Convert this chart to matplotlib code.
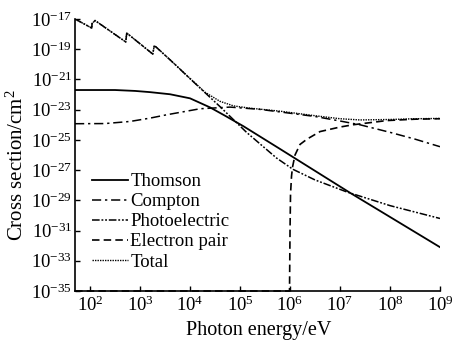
import numpy as np
import matplotlib.pyplot as plt

plt.rcParams['font.family'] = 'Liberation Serif'
plt.rcParams['mathtext.fontset'] = 'custom'
plt.rcParams['mathtext.rm'] = 'Liberation Serif'
plt.rcParams['mathtext.it'] = 'Liberation Serif:italic'

# values: log10(energy / eV), log10(cross section / cm^2)
thomson_e = [1.7, 2.5, 2.9, 3.2, 3.6, 4.0, 4.4, 4.7, 5.07, 5.8, 7.2, 9.0]
thomson_s = [-21.7, -21.7, -21.76, -21.84, -21.98, -22.25, -22.85, -23.4, -24.1, -25.6, -28.5, -32.1]

compton_e = [1.7, 2.3, 2.8, 3.2, 3.53, 4.2, 4.8, 5.4, 5.8, 6.5, 7.0, 7.4, 8.0, 8.5, 9.0]
compton_s = [-23.93, -23.92, -23.78, -23.56, -23.34, -22.94, -22.83, -22.98, -23.15, -23.45,
             -23.75, -24.0, -24.5, -24.95, -25.45]

photo_e = [1.7, 2.034, 2.04, 2.10, 2.714, 2.734, 3.254, 3.286, 3.6, 4.0, 4.6, 5.13, 5.73,
           6.06, 6.5, 7.14, 8.0, 9.0]
photo_s = [-17.0, -17.6, -17.3, -17.1, -18.52, -17.93, -19.32, -18.75, -19.7, -20.95, -22.8,
           -24.5, -26.2, -26.95, -27.65, -28.45, -29.35, -30.2]

pair_e = [1.7, 5.99, 6.0, 6.01, 6.03, 6.05, 6.1, 6.2, 6.34, 6.6, 7.0, 7.26, 7.94, 8.5, 9.0]
pair_s = [-35.0, -35.0, -31.0, -28.6, -27.4, -26.8, -26.0, -25.3, -24.95, -24.45, -24.15,
          -24.0, -23.72, -23.63, -23.6]

total_e = [1.7, 2.034, 2.04, 2.10, 2.714, 2.734, 3.254, 3.286, 3.6, 4.0, 4.3, 4.6, 4.87,
           5.2, 5.5, 5.8, 6.5, 7.0, 7.4, 8.0, 8.5, 9.0]
total_s = [-17.0, -17.6, -17.3, -17.1, -18.52, -17.93, -19.32, -18.75, -19.7, -20.93, -21.85,
           -22.45, -22.75, -22.9, -23.0, -23.1, -23.4, -23.6, -23.68, -23.65, -23.6, -23.58]

xtick_pow = [2, 3, 4, 5, 6, 7, 8, 9]
ytick_pow = [-17, -19, -21, -23, -25, -27, -29, -31, -33, -35]

fig = plt.figure(figsize=(4.57, 3.43), dpi=100)
ax = fig.add_axes([75 / 457, 1 - 291 / 343, 365 / 457, 272 / 343])

def p(v):
    return 10.0 ** np.array(v)

ax.plot(p(thomson_e), p(thomson_s), color='k', lw=1.3, label='Thomson')
ax.plot(p(compton_e), p(compton_s), color='k', lw=1.1, dashes=(6, 2.5, 1.5, 2.5), label='Compton')
ax.plot(p(photo_e), p(photo_s), color='k', lw=1.1, dashes=(5, 1.2, 1.2, 1.2, 1.2, 1.2),
        label='Photoelectric')
ax.plot(p(pair_e), p(pair_s), color='k', lw=1.2, dashes=(4.5, 2.5), label='Electron pair',
        clip_on=False)
ax.plot(p(total_e), p(total_s), color='k', lw=1.0, dashes=(1, 0.8), label='Total')

ax.set_xscale('log')
ax.set_yscale('log')
ax.set_xlim(50, 1e9)
ax.set_ylim(1e-35, 1e-17)

ax.set_xticks([10.0 ** k for k in xtick_pow])
ax.set_xticklabels([r'$10^{%d}$' % k for k in xtick_pow])
ax.set_yticks([10.0 ** k for k in ytick_pow])
ax.set_yticklabels([r'$10^{%d}$' % k for k in ytick_pow])
ax.minorticks_off()
ax.tick_params(direction='in', length=3.5, width=1, labelsize=13.5, pad=3)
ax.tick_params(axis='y', pad=2)

for s in ['top', 'right']:
    ax.spines[s].set_visible(False)
for s in ['left', 'bottom']:
    ax.spines[s].set_linewidth(1.2)

ax.set_xlabel('Photon energy/eV', fontsize=14.5)
ax.set_ylabel('Cross section/cm$^{2}$', fontsize=15)
ax.xaxis.set_label_coords(0.504, -0.11)
ax.yaxis.set_label_coords(-0.13, 0.463)

ax.legend(loc='upper left', bbox_to_anchor=(92 / 457, 1 - 173 / 343),
          bbox_transform=fig.transFigure, frameon=False, fontsize=13.5,
          handlelength=1.9, handletextpad=0.15, labelspacing=0.16, borderpad=0,
          borderaxespad=0)

fig.savefig('out.png', dpi=100)
